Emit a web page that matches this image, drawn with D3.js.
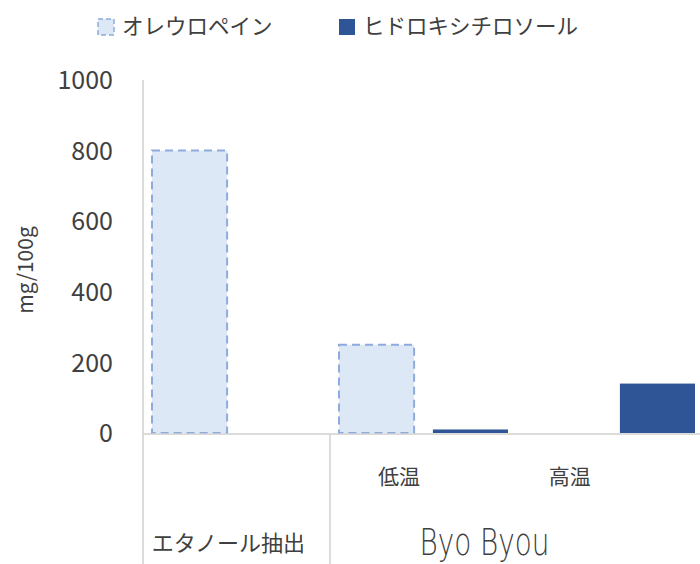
<!DOCTYPE html>
<html>
<head>
<meta charset="utf-8">
<script src="https://cdn.jsdelivr.net/npm/d3@7"></script>
<style>
  html, body { margin: 0; padding: 0; background: #fff; }
  svg { display: block; }
  text { font-family: "Noto Sans CJK JP", "Noto Sans", sans-serif; fill: #404040; }
</style>
</head>
<body>
<svg id="chart" width="700" height="564"></svg>
<script>
// Categories: leaf labels and their group labels
const categories = ["エタノール抽出", "低温", "高温"];
const leafLabels = ["", "低温", "高温"];
const groups = [
  { label: "エタノール抽出", from: 0, to: 0 },
  { label: "Byo Byou", from: 1, to: 2 }
];
const seriesNames = ["オレウロペイン", "ヒドロキシチロソール"];
const oleuropein = [800, 250, 0];
const hydroxytyrosol = [0, 10, 140];
const yTicks = [0, 200, 400, 600, 800, 1000];
const yTitle = "mg/100g";

const svg = d3.select("#chart");
const plotLeft = 143, plotRight = 704, plotTop = 80, plotBase = 433, plotBottom = 564;

const x0 = d3.scaleBand().domain(categories).range([plotLeft, plotRight]).paddingInner(0).paddingOuter(0);
const x1 = d3.scaleBand().domain(seriesNames).range([9, x0.bandwidth() - 9]).paddingInner(0.2).paddingOuter(0);
const y = d3.scaleLinear().domain([0, 1000]).range([plotBase, plotTop]);
// label anchor positions along the category axis
const xl = d3.scaleBand().domain(categories).range([plotLeft, plotLeft + (plotRight - plotLeft) * 0.913]);

const colors = { fillA: "#dde8f6", strokeA: "#8faadc", fillB: "#2f5597", axis: "#d0d0d0" };

// value axis: labels only
const yAxis = d3.axisLeft(y).tickValues(yTicks).tickSize(0).tickPadding(30).tickFormat(d3.format("d"));
const gy = svg.append("g").attr("transform", `translate(${plotLeft},0)`).call(yAxis);
gy.select(".domain").remove();
gy.selectAll("text").style("font-family", "'Noto Sans CJK JP', sans-serif").style("font-size", "25px").attr("fill", "#404040").attr("dy", "0.35em");

// y axis title
svg.append("text")
  .attr("transform", `translate(26,270) rotate(-90)`)
  .attr("dy", "0.35em")
  .attr("text-anchor", "middle")
  .style("font-size", "21px")
  .text(yTitle);

// bars
const rows = categories.map((c, i) => ({ cat: c, vals: [oleuropein[i], hydroxytyrosol[i]] }));
const cg = svg.append("g").selectAll("g").data(rows).join("g")
  .attr("transform", d => `translate(${x0(d.cat)},0)`);

cg.selectAll("rect").data(d => d.vals.map((v, k) => ({ v, s: seriesNames[k], k })).filter(e => e.v > 0))
  .join("rect")
  .attr("x", e => x1(e.s))
  .attr("width", x1.bandwidth())
  .attr("y", e => y(e.v))
  .attr("height", e => y(0) - y(e.v))
  .attr("fill", e => e.k === 0 ? colors.fillA : colors.fillB)
  .attr("stroke", e => e.k === 0 ? colors.strokeA : "none")
  .attr("stroke-width", 2)
  .attr("stroke-dasharray", e => e.k === 0 ? "8,5" : null);

// axis lines
svg.append("line").attr("x1", plotLeft).attr("x2", 700).attr("y1", plotBase + 1).attr("y2", plotBase + 1)
  .attr("stroke", colors.axis).attr("stroke-width", 1.5);
svg.append("line").attr("x1", plotLeft).attr("x2", plotLeft).attr("y1", plotTop).attr("y2", plotBottom)
  .attr("stroke", colors.axis).attr("stroke-width", 1.5);
groups.slice(1).forEach(g => {
  const xs = x0(categories[g.from]);
  svg.append("line").attr("x1", xs).attr("x2", xs).attr("y1", plotBase + 1).attr("y2", plotBottom)
    .attr("stroke", colors.axis).attr("stroke-width", 1.5);
});

// leaf category labels
svg.append("g").selectAll("text").data(categories.map((c, i) => ({ c, t: leafLabels[i] })).filter(d => d.t))
  .join("text")
  .attr("x", d => xl(d.c) + xl.bandwidth() / 2)
  .attr("y", 477)
  .attr("dy", "0.35em")
  .attr("text-anchor", "middle")
  .style("font-size", "21px")
  .text(d => d.t);

// group labels
groups.forEach(g => {
  const cx = (xl(categories[g.from]) + xl(categories[g.to]) + xl.bandwidth()) / 2;
  if (g.label === "Byo Byou") {
    svg.append("text")
      .attr("x", cx).attr("y", 542).attr("dy", "0.35em")
      .attr("text-anchor", "middle")
      .style("font-family", "'DejaVu Sans Light', 'DejaVu Sans', sans-serif")
      .style("font-weight", "200")
      .style("font-size", "38px")
      .attr("textLength", 130).attr("lengthAdjust", "spacingAndGlyphs")
      .attr("fill", "#595959")
      .text(g.label);
  } else {
    svg.append("text")
      .attr("x", cx).attr("y", 543).attr("dy", "0.35em")
      .attr("text-anchor", "middle")
      .style("font-size", "22px")
      .text(g.label);
  }
});

// legend
const legend = svg.append("g");
const legendItems = [
  { name: seriesNames[0], x: 98, fill: colors.fillA, stroke: colors.strokeA },
  { name: seriesNames[1], x: 339, fill: colors.fillB, stroke: null }
];
legendItems.forEach(it => {
  legend.append("rect").attr("x", it.x).attr("y", 19).attr("width", 16).attr("height", 16)
    .attr("fill", it.fill)
    .attr("stroke", it.stroke || "none").attr("stroke-width", 1.5)
    .attr("stroke-dasharray", it.stroke ? "5,3" : null);
  legend.append("text").attr("x", it.x + 24).attr("y", 26).attr("dy", "0.35em")
    .style("font-size", "21.5px").text(it.name);
});
</script>
</body>
</html>
